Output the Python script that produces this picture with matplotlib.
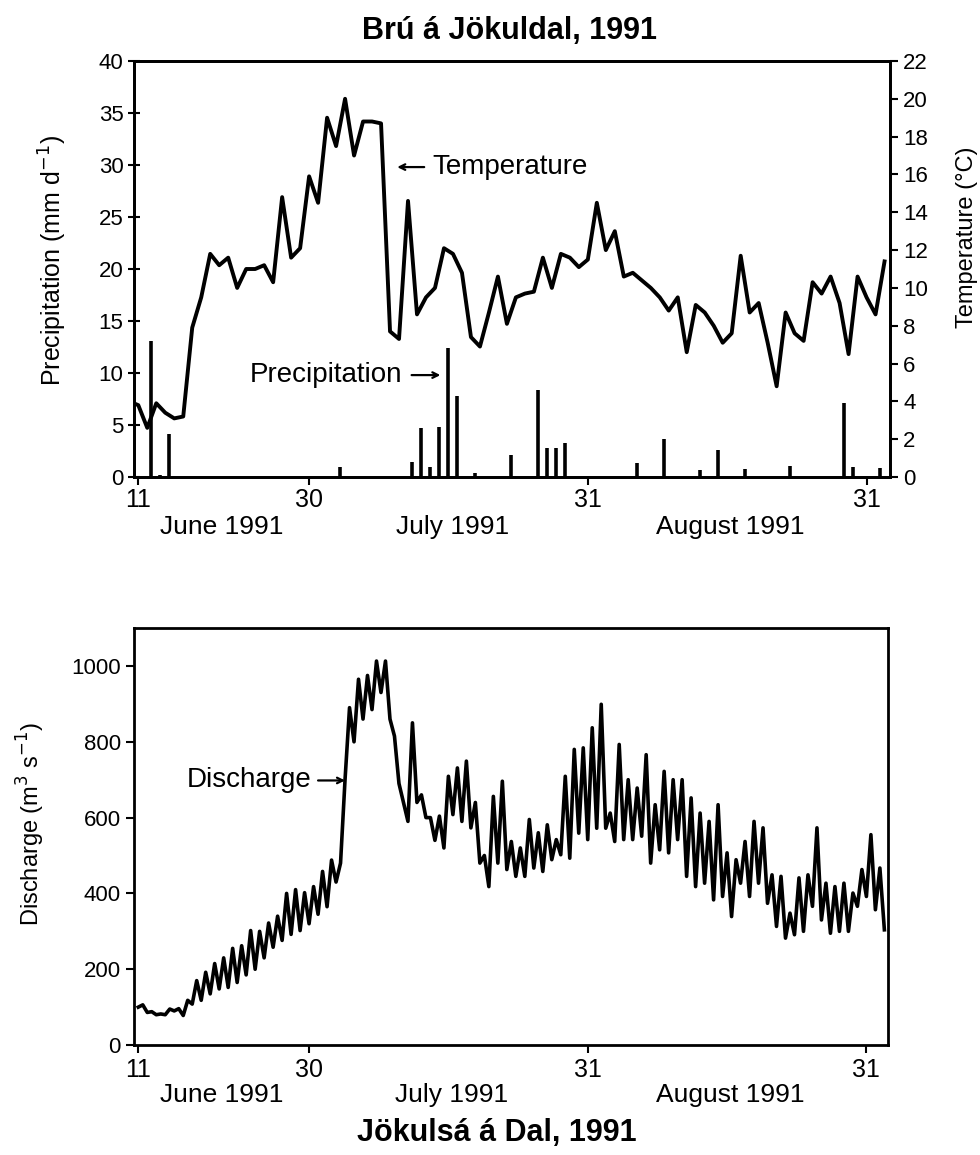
import numpy as np
import matplotlib.pyplot as plt

plt.rcParams['font.family'] = ['Liberation Sans', 'DejaVu Sans']

# day 0 = 11 June 1991
temp_days = list(range(-1, 84))
temp_c = [4.0, 3.8, 2.6, 3.9, 3.4, 3.1, 3.2, 7.9, 9.5, 11.8, 11.2,
          11.6, 10.0, 11.0, 11.0, 11.2, 10.3, 14.8, 11.6, 12.1, 15.9,
          14.5, 19.0, 17.5, 20.0, 17.0, 18.8, 18.8, 18.7, 7.7, 7.3,
          14.6, 8.6, 9.5, 10.0, 12.1, 11.8, 10.8, 7.4, 6.9, 8.7,
          10.6, 8.1, 9.5, 9.7, 9.8, 11.6, 10.0, 11.8, 11.6, 11.1,
          11.5, 14.5, 12.0, 13.0, 10.6, 10.8, 10.4, 10.0, 9.5, 8.8,
          9.5, 6.6, 9.1, 8.7, 8.0, 7.1, 7.6, 11.7, 8.7, 9.2,
          7.1, 4.8, 8.7, 7.6, 7.2, 10.3, 9.7, 10.6, 9.2, 6.5,
          10.6, 9.5, 8.6, 11.4]

precip_days = [1, 2, 3, 22, 30, 31, 32, 33, 34, 35, 37, 41, 44, 45, 46, 47,
               55, 58, 62, 64, 67, 72, 78, 79, 82]
precip_mm = [13.1, 0.2, 4.1, 1.0, 1.4, 4.7, 1.0, 4.8, 12.4, 7.8, 0.4, 2.1,
             8.4, 2.8, 2.8, 3.3, 1.3, 3.7, 0.7, 2.6, 0.8, 1.1, 7.1, 1.0, 0.9]

# daily trough (morning) and peak (evening) discharge, m3/s
q_trough = [100, 86, 80, 80, 90, 78, 108, 118, 135, 148,
            152, 165, 185, 200, 230, 258, 276, 292, 302, 320,
            345, 365, 430, 700, 800, 860, 885, 930, 860, 690,
            590, 640, 600, 540, 520, 608, 590, 573, 480, 418,
            480, 463, 445, 445, 467, 458, 489, 502, 493, 559,
            542, 572, 572, 537, 542, 542, 551, 480, 515, 507,
            542, 445, 418, 427, 383, 392, 339, 427, 392, 427,
            374, 313, 282, 291, 300, 366, 330, 295, 300, 300,
            366, 392, 357, 304]
q_peak = [106, 88, 82, 95, 96, 118, 170, 192, 215, 230,
          255, 262, 302, 300, 322, 340, 400, 410, 402, 418,
          458, 488, 480, 890, 965, 975, 1013, 1013, 815, 640,
          850, 660, 600, 604, 709, 731, 749, 640, 500, 656,
          696, 537, 520, 595, 560, 581, 542, 709, 780, 784,
          837, 899, 612, 793, 700, 678, 766, 634, 722, 700,
          700, 652, 612, 590, 634, 507, 489, 537, 590, 573,
          449, 445, 348, 441, 449, 573, 427, 418, 427, 401,
          463, 555, 467]

tick_days = [0, 19, 50, 81]
tick_labels = ['11', '30', '31', '31']
month_labels = ['June 1991', 'July 1991', 'August 1991']
month_days = [9.3, 34.9, 65.8]

arrow = dict(arrowstyle='->', color='black', lw=1.6, shrinkA=0, shrinkB=0)

fig = plt.figure(figsize=(9.8, 11.55), dpi=100)

# ---- top panel: precipitation + temperature
ax = fig.add_axes([0.1367, 0.5870, 0.7714, 0.3602])
ax2 = ax.twinx()
ax.vlines(np.array(precip_days) + 0.45, 0, precip_mm, color='black', linewidth=2.6)
ax2.plot(temp_days, temp_c, color='black', linewidth=2.8)
ax.set_xlim(-0.48, 83.6)
ax.set_ylim(0, 40)
ax2.set_ylim(0, 22)
ax.set_yticks(range(0, 41, 5))
ax2.set_yticks(range(0, 23, 2))
ax.set_ylabel('Precipitation (mm d$^{-1}$)', fontsize=18)
ax.yaxis.set_label_coords(-0.086, 0.52)
ax2.set_ylabel('Temperature (°C)', fontsize=17)
ax2.yaxis.set_label_coords(1.088, 0.577)
fig.text(0.52, 0.973, 'Brú á Jökuldal, 1991', fontsize=22, fontweight='bold',
         ha='center', va='center')

ax.annotate('', xy=(28.8, 29.8), xytext=(31.8, 29.8), arrowprops=arrow)
ax.text(32.7, 29.8, 'Temperature', fontsize=20, va='center', ha='left')
ax.annotate('', xy=(33.6, 9.8), xytext=(30.4, 9.8), arrowprops=arrow)
ax.text(29.4, 9.8, 'Precipitation', fontsize=20, va='center', ha='right')

# ---- bottom panel: discharge
ax3 = fig.add_axes([0.1367, 0.0952, 0.7694, 0.3610])
qx, qy = [], []
for i in range(len(q_trough)):
    qx.append(i)
    qy.append(q_trough[i])
    if i < len(q_peak):
        qx.append(i + 0.5)
        qy.append(q_peak[i])
ax3.plot(qx, qy, color='black', linewidth=2.6)
ax3.set_xlim(-0.48, 83.4)
ax3.set_ylim(0, 1100)
ax3.set_yticks(range(0, 1001, 200))
ax3.set_ylabel('Discharge (m$^3$ s$^{-1}$)', fontsize=17)
ax3.yaxis.set_label_coords(-0.115, 0.53)
ax3.annotate('', xy=(23.0, 698), xytext=(20.0, 698), arrowprops=arrow)
ax3.text(19.3, 698, 'Discharge', fontsize=20, va='center', ha='right')
ax3.text(0.481, -0.21, 'Jökulsá á Dal, 1991', transform=ax3.transAxes,
         fontsize=22, fontweight='bold', ha='center', va='center')

for a in [ax, ax3]:
    a.set_xticks(tick_days)
    a.set_xticklabels(tick_labels)
    for name, d in zip(month_labels, month_days):
        a.text(d, -0.12, name, transform=a.get_xaxis_transform(),
               fontsize=19, ha='center', va='center')

for a in [ax, ax2, ax3]:
    for s in a.spines.values():
        s.set_linewidth(2)
    a.tick_params(labelsize=16, width=1.5, length=6, direction='out')
ax.tick_params(axis='y', direction='inout', length=8)
ax2.tick_params(axis='y', direction='out', length=6)
ax.tick_params(axis='x', labelsize=18, pad=2)
ax3.tick_params(axis='x', labelsize=18, pad=3)

fig.savefig('out.png', dpi=100, facecolor='white')
